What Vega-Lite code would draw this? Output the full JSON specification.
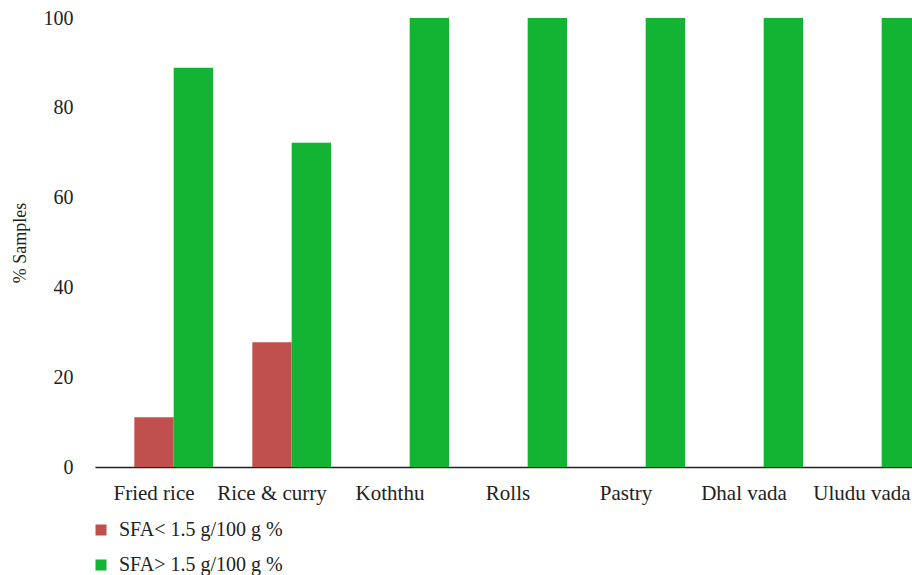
{
  "$schema": "https://vega.github.io/schema/vega-lite/v6.json",
  "width": 826,
  "height": 449,
  "autosize": {"type": "none"},
  "padding": {"left": 95, "top": 18, "right": 0, "bottom": 108},
  "background": "white",
  "config": {"view": {"stroke": null}, "font": "Liberation Serif"},
  "data": {
    "values": [
      {"food": "Fried rice", "series": "SFA< 1.5 g/100 g %", "value": 11.1},
      {"food": "Fried rice", "series": "SFA> 1.5 g/100 g %", "value": 88.9},
      {"food": "Rice & curry", "series": "SFA< 1.5 g/100 g %", "value": 27.8},
      {"food": "Rice & curry", "series": "SFA> 1.5 g/100 g %", "value": 72.2},
      {"food": "Koththu", "series": "SFA< 1.5 g/100 g %", "value": 0},
      {"food": "Koththu", "series": "SFA> 1.5 g/100 g %", "value": 100},
      {"food": "Rolls", "series": "SFA< 1.5 g/100 g %", "value": 0},
      {"food": "Rolls", "series": "SFA> 1.5 g/100 g %", "value": 100},
      {"food": "Pastry", "series": "SFA< 1.5 g/100 g %", "value": 0},
      {"food": "Pastry", "series": "SFA> 1.5 g/100 g %", "value": 100},
      {"food": "Dhal vada", "series": "SFA< 1.5 g/100 g %", "value": 0},
      {"food": "Dhal vada", "series": "SFA> 1.5 g/100 g %", "value": 100},
      {"food": "Uludu vada", "series": "SFA< 1.5 g/100 g %", "value": 0},
      {"food": "Uludu vada", "series": "SFA> 1.5 g/100 g %", "value": 100}
    ]
  },
  "mark": {"type": "bar"},
  "encoding": {
    "x": {
      "field": "food",
      "type": "nominal",
      "sort": ["Fried rice", "Rice & curry", "Koththu", "Rolls", "Pastry", "Dhal vada", "Uludu vada"],
      "scale": {"paddingInner": 0, "paddingOuter": 0},
      "axis": {
        "title": null,
        "labelAngle": 0,
        "ticks": false,
        "domainColor": "#222222",
        "domainWidth": 1.5,
        "labelFontSize": 21,
        "labelPadding": 15,
        "labelColor": "#222222",
        "labelDx": -2
      }
    },
    "xOffset": {
      "field": "series",
      "type": "nominal",
      "scale": {
        "domain": ["pad", "SFA< 1.5 g/100 g %", "SFA> 1.5 g/100 g %"],
        "paddingInner": 0,
        "paddingOuter": 0
      }
    },
    "y": {
      "field": "value",
      "type": "quantitative",
      "scale": {"domain": [0, 100]},
      "axis": {
        "title": "% Samples",
        "titleFontSize": 18,
        "titleFontWeight": "normal",
        "titleColor": "#222222",
        "titlePadding": 14,
        "values": [0, 20, 40, 60, 80, 100],
        "grid": false,
        "domain": false,
        "ticks": false,
        "labelFontSize": 20,
        "labelPadding": 22,
        "labelColor": "#222222"
      }
    },
    "color": {
      "field": "series",
      "type": "nominal",
      "scale": {
        "domain": ["SFA< 1.5 g/100 g %", "SFA> 1.5 g/100 g %"],
        "range": ["#C0504D", "#13B434"]
      },
      "legend": {
        "title": null,
        "orient": "none",
        "legendX": -4,
        "legendY": 502,
        "direction": "vertical",
        "symbolType": "square",
        "symbolSize": 121,
        "symbolStrokeWidth": 0,
        "labelFontSize": 20,
        "labelColor": "#222222",
        "labelOffset": 8,
        "labelLimit": 0,
        "rowPadding": 15
      }
    }
  }
}
